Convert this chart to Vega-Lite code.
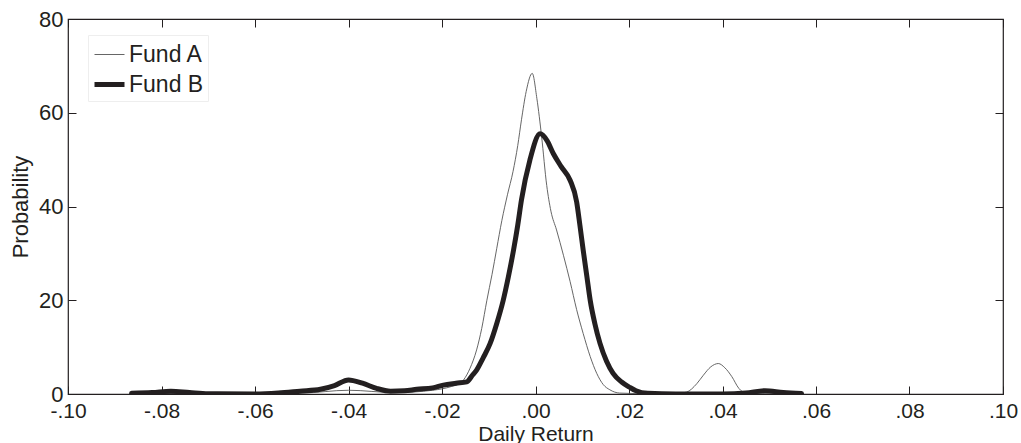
{
  "$schema": "https://vega.github.io/schema/vega-lite/v6.json",
  "width": 935,
  "height": 375,
  "autosize": {"type": "none"},
  "padding": {"left": 68, "top": 19, "right": 18, "bottom": 49},
  "background": "white",
  "config": {
    "view": {"stroke": "#231f20", "strokeWidth": 1.2},
    "font": "Liberation Sans",
    "axis": {"labelFont": "Liberation Sans", "titleFont": "Liberation Sans", "labelColor": "#231f20", "titleColor": "#231f20", "titleFontWeight": "normal", "grid": false, "domain": false, "tickColor": "#231f20", "tickWidth": 1, "tickSize": -8}
  },
  "data": {"values": [
    {"fund":"Fund A","x":-0.085,"y":0.1},
    {"fund":"Fund A","x":-0.07,"y":0.1},
    {"fund":"Fund A","x":-0.05,"y":0.2},
    {"fund":"Fund A","x":-0.04,"y":0.8},
    {"fund":"Fund A","x":-0.03,"y":0.3},
    {"fund":"Fund A","x":-0.022,"y":0.8},
    {"fund":"Fund A","x":-0.018,"y":1.6},
    {"fund":"Fund A","x":-0.016,"y":2.4},
    {"fund":"Fund A","x":-0.0154,"y":3.0},
    {"fund":"Fund A","x":-0.014,"y":5.5},
    {"fund":"Fund A","x":-0.0126,"y":9.4},
    {"fund":"Fund A","x":-0.0115,"y":14},
    {"fund":"Fund A","x":-0.0104,"y":20},
    {"fund":"Fund A","x":-0.0093,"y":25.5},
    {"fund":"Fund A","x":-0.0083,"y":31},
    {"fund":"Fund A","x":-0.0072,"y":37},
    {"fund":"Fund A","x":-0.006,"y":42.5},
    {"fund":"Fund A","x":-0.0048,"y":47.5},
    {"fund":"Fund A","x":-0.0038,"y":53},
    {"fund":"Fund A","x":-0.003,"y":58.5},
    {"fund":"Fund A","x":-0.002,"y":64.5},
    {"fund":"Fund A","x":-0.0007,"y":68.4},
    {"fund":"Fund A","x":0.0003,"y":63},
    {"fund":"Fund A","x":0.0013,"y":55},
    {"fund":"Fund A","x":0.0024,"y":44.5},
    {"fund":"Fund A","x":0.0033,"y":39},
    {"fund":"Fund A","x":0.0045,"y":35},
    {"fund":"Fund A","x":0.006,"y":29.5},
    {"fund":"Fund A","x":0.0074,"y":24},
    {"fund":"Fund A","x":0.0088,"y":18},
    {"fund":"Fund A","x":0.0102,"y":12.9},
    {"fund":"Fund A","x":0.0117,"y":8},
    {"fund":"Fund A","x":0.0131,"y":4.4},
    {"fund":"Fund A","x":0.0145,"y":2.0},
    {"fund":"Fund A","x":0.0159,"y":0.9},
    {"fund":"Fund A","x":0.018,"y":0.2},
    {"fund":"Fund A","x":0.025,"y":0.05},
    {"fund":"Fund A","x":0.03,"y":0.1},
    {"fund":"Fund A","x":0.0323,"y":0.4},
    {"fund":"Fund A","x":0.0345,"y":2.2},
    {"fund":"Fund A","x":0.0359,"y":4},
    {"fund":"Fund A","x":0.0375,"y":5.8},
    {"fund":"Fund A","x":0.0391,"y":6.5},
    {"fund":"Fund A","x":0.0405,"y":5.6},
    {"fund":"Fund A","x":0.042,"y":3.7},
    {"fund":"Fund A","x":0.0435,"y":1.2},
    {"fund":"Fund A","x":0.045,"y":0.2},
    {"fund":"Fund A","x":0.05,"y":0.05},
    {"fund":"Fund A","x":0.057,"y":0.0},
    {"fund":"Fund B","x":-0.0864,"y":0.15},
    {"fund":"Fund B","x":-0.082,"y":0.3},
    {"fund":"Fund B","x":-0.078,"y":0.6},
    {"fund":"Fund B","x":-0.074,"y":0.3},
    {"fund":"Fund B","x":-0.07,"y":0.05},
    {"fund":"Fund B","x":-0.06,"y":0.0},
    {"fund":"Fund B","x":-0.055,"y":0.2},
    {"fund":"Fund B","x":-0.0504,"y":0.6},
    {"fund":"Fund B","x":-0.046,"y":1.0},
    {"fund":"Fund B","x":-0.043,"y":1.8},
    {"fund":"Fund B","x":-0.04,"y":3.0},
    {"fund":"Fund B","x":-0.037,"y":2.3},
    {"fund":"Fund B","x":-0.034,"y":1.2},
    {"fund":"Fund B","x":-0.031,"y":0.6},
    {"fund":"Fund B","x":-0.028,"y":0.7},
    {"fund":"Fund B","x":-0.0254,"y":1.0},
    {"fund":"Fund B","x":-0.022,"y":1.3},
    {"fund":"Fund B","x":-0.0197,"y":1.9},
    {"fund":"Fund B","x":-0.017,"y":2.3},
    {"fund":"Fund B","x":-0.0147,"y":2.6},
    {"fund":"Fund B","x":-0.0135,"y":4.0},
    {"fund":"Fund B","x":-0.0126,"y":5.1},
    {"fund":"Fund B","x":-0.0112,"y":7.7},
    {"fund":"Fund B","x":-0.0097,"y":10.8},
    {"fund":"Fund B","x":-0.0083,"y":15},
    {"fund":"Fund B","x":-0.0069,"y":20},
    {"fund":"Fund B","x":-0.0058,"y":25},
    {"fund":"Fund B","x":-0.0047,"y":30.7},
    {"fund":"Fund B","x":-0.0038,"y":36},
    {"fund":"Fund B","x":-0.003,"y":41.4},
    {"fund":"Fund B","x":-0.0012,"y":49.9},
    {"fund":"Fund B","x":0.001,"y":55.5},
    {"fund":"Fund B","x":0.0025,"y":54},
    {"fund":"Fund B","x":0.0038,"y":51.3},
    {"fund":"Fund B","x":0.0055,"y":48.5},
    {"fund":"Fund B","x":0.0074,"y":45.6},
    {"fund":"Fund B","x":0.0088,"y":41},
    {"fund":"Fund B","x":0.0095,"y":36},
    {"fund":"Fund B","x":0.0102,"y":30.7},
    {"fund":"Fund B","x":0.011,"y":25},
    {"fund":"Fund B","x":0.0117,"y":20},
    {"fund":"Fund B","x":0.0127,"y":15},
    {"fund":"Fund B","x":0.0138,"y":10.8},
    {"fund":"Fund B","x":0.0152,"y":7},
    {"fund":"Fund B","x":0.0166,"y":4.4},
    {"fund":"Fund B","x":0.0185,"y":2.5},
    {"fund":"Fund B","x":0.0202,"y":1.4},
    {"fund":"Fund B","x":0.0215,"y":0.7},
    {"fund":"Fund B","x":0.024,"y":0.15},
    {"fund":"Fund B","x":0.03,"y":0.0},
    {"fund":"Fund B","x":0.04,"y":0.0},
    {"fund":"Fund B","x":0.045,"y":0.2},
    {"fund":"Fund B","x":0.0491,"y":0.7},
    {"fund":"Fund B","x":0.053,"y":0.3},
    {"fund":"Fund B","x":0.0569,"y":0.1}
  ]},
  "layer": [
    {
      "mark": {"type": "line", "interpolate": "monotone", "strokeCap": "round", "strokeJoin": "round", "clip": true},
      "encoding": {
        "x": {"field": "x", "type": "quantitative", "scale": {"domain": [-0.1, 0.1], "nice": false, "zero": false},
          "axis": {"orient": "bottom", "values": [-0.1, -0.08, -0.06, -0.04, -0.02, 0, 0.02, 0.04, 0.06, 0.08, 0.1],
            "labelExpr": "(datum.value < -0.001 ? '-' : '') + replace(format(abs(datum.value), '.2f'), '0.', '.')", "labelFontSize": 21, "labelPadding": 14,
            "labelFlush": false, "labelOverlap": false,
            "encode": {"labels": {"update": {"dx": {"signal": "datum.value < -0.001 ? -9 : 0"}}}},
            "title": "Daily  Return", "titleFontSize": 21, "titlePadding": 2}},
        "y": {"field": "y", "type": "quantitative", "scale": {"domain": [0, 80], "nice": false},
          "axis": {"orient": "left", "values": [0, 20, 40, 60, 80], "labelFontSize": 22, "labelPadding": 13, "labelFlush": false, "labelOverlap": false,
            "title": "Probability", "titleFontSize": 22, "titlePadding": 6}},
        "color": {"field": "fund", "type": "nominal", "scale": {"domain": ["Fund A", "Fund B"], "range": ["#555555", "#231f20"]},
          "legend": {"orient": "none", "legendX": 20, "legendY": 16, "title": null, "symbolType": "stroke", "symbolSize": 900,
            "labelFontSize": 23, "labelColor": "#231f20", "labelFont": "Liberation Sans", "labelOffset": 2, "rowPadding": -3,
            "fillColor": "white", "strokeColor": "#eeeeee", "padding": 4}},
        "strokeWidth": {"field": "fund", "type": "nominal", "scale": {"domain": ["Fund A", "Fund B"], "range": [0.9, 5]}, "legend": {"orient": "none", "legendX": 20, "legendY": 16, "title": null}}
      }
    },
    {
      "mark": {"type": "line", "opacity": 0},
      "encoding": {
        "x": {"field": "x", "type": "quantitative", "axis": {"orient": "top", "values": [-0.1, -0.08, -0.06, -0.04, -0.02, 0, 0.02, 0.04, 0.06, 0.08, 0.1], "labels": false, "title": null}},
        "y": {"field": "y", "type": "quantitative", "axis": {"orient": "right", "values": [0, 20, 40, 60, 80], "labels": false, "title": null}},
        "detail": {"field": "fund"}
      }
    }
  ],
  "resolve": {"axis": {"x": "independent", "y": "independent"}}
}
